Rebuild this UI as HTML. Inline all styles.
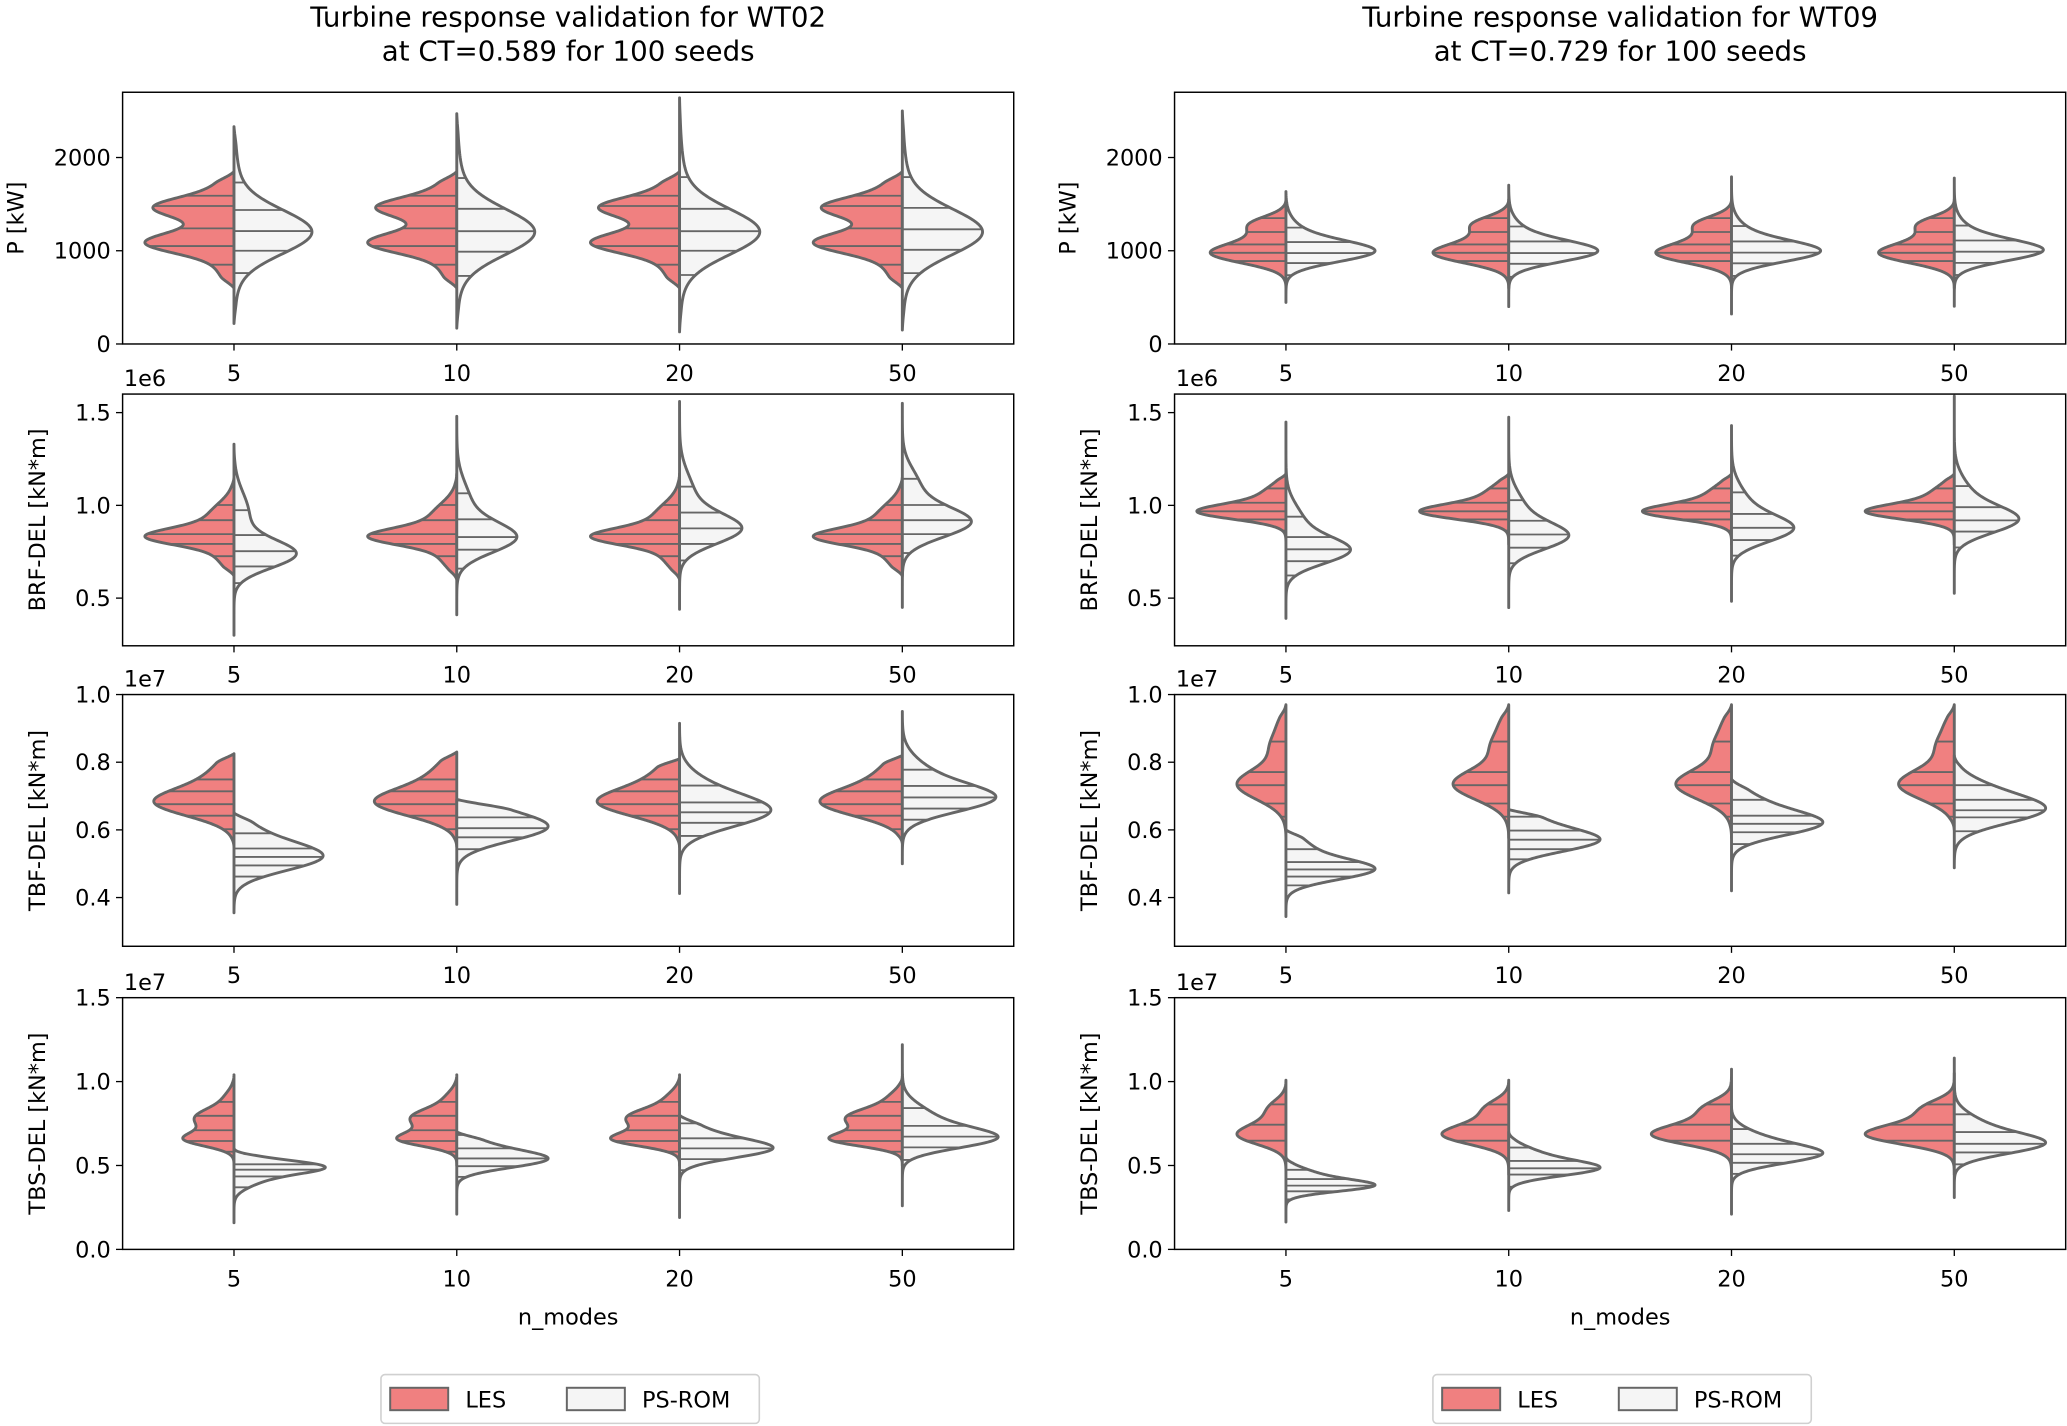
<!DOCTYPE html>
<html><head><meta charset="utf-8">
<style>
html,body{margin:0;padding:0;background:#fff;}
svg{display:block;}
text{font-family:"DejaVu Sans","Liberation Sans",sans-serif;fill:#000;}
</style></head>
<body>
<svg id="fig" xmlns="http://www.w3.org/2000/svg" width="2067" height="1426" viewBox="0 0 1568 1082" preserveAspectRatio="none">
<rect x="0" y="0" width="1568" height="1082" fill="#fff"/>
<g id="root"></g>
</svg>
<script>
// ---------- data ----------
const categories = ['5','10','20','50'];
const metricNames = ['P [kW]','BRF-DEL [kN*m]','TBF-DEL [kN*m]','TBS-DEL [kN*m]'];
const yDomains = [[0,2700],[0.243,1.6],[0.256,1.0],[0,1.5]];
const yTickValues = [[0,1000,2000],[0.5,1.0,1.5],[0.4,0.6,0.8,1.0],[0.0,0.5,1.0,1.5]];
const yTickLabels = [['0','1000','2000'],['0.5','1.0','1.5'],['0.4','0.6','0.8','1.0'],['0.0','0.5','1.0','1.5']];
const offsetLabels = ['','1e6','1e7','1e7'];
const panelTitles = [['Turbine response validation for WT02','at CT=0.589 for 100 seeds'],['Turbine response validation for WT09','at CT=0.729 for 100 seeds']];
// each half: [min, max, peakDensity, gaussian components [mu, sd, weight], inner line values]
const wt02_P_les = [
 [600,1850,0.40,[[1080,110,1],[1470,105,0.9],[1270,200,0.35],[1700,120,0.2],[800,150,0.2]],[850,1050,1240,1480,1590]],
 [600,1850,0.40,[[1080,110,1],[1470,105,0.9],[1270,200,0.35],[1700,120,0.2],[800,150,0.2]],[850,1050,1240,1480,1590]],
 [600,1850,0.40,[[1080,110,1],[1470,105,0.9],[1270,200,0.35],[1700,120,0.2],[800,150,0.2]],[850,1050,1240,1480,1590]],
 [600,1850,0.40,[[1080,110,1],[1470,105,0.9],[1270,200,0.35],[1700,120,0.2],[800,150,0.2]],[850,1050,1240,1480,1590]]];
const wt02_P_rom = [
 [220,2330,0.35,[[1200,230,1],[1300,500,0.12]],[761,1000,1211,1437,1732]],
 [170,2470,0.35,[[1200,240,1],[1300,500,0.12]],[730,990,1210,1450,1780]],
 [130,2640,0.36,[[1200,240,1],[1300,500,0.12]],[740,1000,1210,1450,1790]],
 [150,2500,0.36,[[1200,240,1],[1300,500,0.12]],[760,1010,1230,1460,1790]]];
const wt02_BRF_les = [
 [0.62,1.15,0.40,[[0.83,0.045,1],[0.93,0.08,0.35],[0.72,0.06,0.2]],[0.726,0.792,0.845,0.920,1.002]],
 [0.60,1.17,0.40,[[0.83,0.045,1],[0.93,0.08,0.35],[0.72,0.06,0.2]],[0.726,0.792,0.845,0.920,1.002]],
 [0.60,1.17,0.40,[[0.83,0.045,1],[0.93,0.08,0.35],[0.72,0.06,0.2]],[0.726,0.792,0.845,0.920,1.002]],
 [0.62,1.15,0.40,[[0.83,0.045,1],[0.93,0.08,0.35],[0.72,0.06,0.2]],[0.726,0.792,0.845,0.920,1.002]]];
const wt02_BRF_rom = [
 [0.30,1.33,0.28,[[0.736,0.075,1],[0.95,0.12,0.25]],[0.581,0.671,0.753,0.840,0.974]],
 [0.41,1.48,0.27,[[0.824,0.08,1],[1.0,0.12,0.25]],[0.659,0.761,0.829,0.925,1.065]],
 [0.44,1.56,0.28,[[0.871,0.08,1],[1.05,0.12,0.25]],[0.703,0.792,0.876,0.961,1.101]],
 [0.45,1.55,0.31,[[0.908,0.08,1],[1.1,0.1,0.25]],[0.743,0.845,0.920,1.002,1.143]]];
const wt02_TBF_les = [
 [0.55,0.825,0.36,[[0.68,0.04,1],[0.76,0.05,0.3]],[0.602,0.642,0.676,0.714,0.749]],
 [0.55,0.83,0.37,[[0.68,0.04,1],[0.76,0.05,0.3]],[0.602,0.642,0.676,0.714,0.749]],
 [0.55,0.81,0.37,[[0.68,0.04,1],[0.76,0.05,0.3]],[0.602,0.642,0.676,0.714,0.749]],
 [0.56,0.82,0.37,[[0.68,0.04,1],[0.76,0.05,0.3]],[0.602,0.642,0.676,0.714,0.749]]];
const wt02_TBF_rom = [
 [0.355,0.65,0.40,[[0.518,0.04,1],[0.58,0.05,0.3]],[0.462,0.495,0.520,0.545,0.590]],
 [0.38,0.69,0.41,[[0.605,0.04,1],[0.66,0.05,0.3]],[0.543,0.578,0.605,0.637,0.687]],
 [0.412,0.915,0.41,[[0.652,0.045,1],[0.72,0.05,0.3]],[0.582,0.621,0.652,0.681,0.731]],
 [0.50,0.95,0.42,[[0.692,0.04,1],[0.76,0.05,0.3]],[0.630,0.663,0.696,0.730,0.778]]];
const wt02_TBS_les = [
 [0.50,1.04,0.23,[[0.652,0.04,1],[0.796,0.05,0.75],[0.72,0.05,0.45],[0.9,0.05,0.2]],[0.582,0.646,0.710,0.796,0.879]],
 [0.50,1.04,0.27,[[0.652,0.04,1],[0.796,0.05,0.75],[0.72,0.05,0.45],[0.9,0.05,0.2]],[0.582,0.646,0.710,0.796,0.879]],
 [0.50,1.04,0.31,[[0.652,0.04,1],[0.796,0.05,0.75],[0.72,0.05,0.45],[0.9,0.05,0.2]],[0.582,0.646,0.710,0.796,0.879]],
 [0.50,1.03,0.33,[[0.652,0.04,1],[0.796,0.05,0.75],[0.72,0.05,0.45],[0.9,0.05,0.2]],[0.582,0.646,0.710,0.796,0.879]]];
const wt02_TBS_rom = [
 [0.159,0.60,0.41,[[0.494,0.04,1],[0.42,0.05,0.3]],[0.370,0.435,0.475,0.507,0.585]],
 [0.21,0.70,0.41,[[0.535,0.05,1],[0.62,0.06,0.3]],[0.432,0.496,0.542,0.602,0.682]],
 [0.19,0.80,0.42,[[0.598,0.055,1],[0.69,0.07,0.3]],[0.472,0.538,0.602,0.662,0.751]],
 [0.26,1.22,0.43,[[0.662,0.06,1],[0.78,0.08,0.35]],[0.533,0.608,0.672,0.736,0.842]]];
const wt09_P_les = [
 [600,1550,0.34,[[963,100,1],[1300,80,0.35],[1150,120,0.4]],[889,978,1068,1201,1350]],
 [600,1550,0.34,[[963,100,1],[1300,80,0.35],[1150,120,0.4]],[889,978,1068,1201,1350]],
 [600,1550,0.34,[[963,100,1],[1300,80,0.35],[1150,120,0.4]],[889,978,1068,1201,1350]],
 [600,1550,0.34,[[963,100,1],[1300,80,0.35],[1150,120,0.4]],[889,978,1068,1201,1350]]];
const wt09_P_rom = [
 [446,1635,0.40,[[990,110,1],[1150,150,0.2]],[738,868,975,1093,1248]],
 [401,1703,0.40,[[990,110,1],[1150,150,0.2]],[720,860,975,1100,1260]],
 [322,1793,0.40,[[990,110,1],[1150,150,0.2]],[730,865,980,1100,1265]],
 [405,1780,0.40,[[1000,110,1],[1150,150,0.2]],[740,870,990,1110,1270]]];
const wt09_BRF_les = [
 [0.79,1.17,0.40,[[0.964,0.04,1],[1.05,0.06,0.3]],[0.864,0.924,0.968,1.014,1.091]],
 [0.79,1.17,0.40,[[0.964,0.04,1],[1.05,0.06,0.3]],[0.864,0.924,0.968,1.014,1.091]],
 [0.79,1.17,0.40,[[0.964,0.04,1],[1.05,0.06,0.3]],[0.864,0.924,0.968,1.014,1.091]],
 [0.79,1.17,0.40,[[0.964,0.04,1],[1.05,0.06,0.3]],[0.864,0.924,0.968,1.014,1.091]]];
const wt09_BRF_rom = [
 [0.391,1.449,0.29,[[0.754,0.07,1],[0.9,0.1,0.3]],[0.622,0.699,0.763,0.829,0.939]],
 [0.449,1.475,0.27,[[0.831,0.07,1],[0.97,0.1,0.3]],[0.688,0.772,0.843,0.917,1.028]],
 [0.483,1.43,0.28,[[0.871,0.07,1],[1.0,0.1,0.3]],[0.729,0.813,0.879,0.954,1.07]],
 [0.526,1.589,0.29,[[0.919,0.07,1],[1.04,0.1,0.3]],[0.773,0.859,0.919,0.990,1.104]]];
const wt09_TBF_les = [
 [0.576,0.97,0.22,[[0.735,0.045,1],[0.85,0.04,0.3],[0.92,0.03,0.1]],[0.639,0.678,0.732,0.771,0.861]],
 [0.576,0.97,0.25,[[0.735,0.045,1],[0.85,0.04,0.3],[0.92,0.03,0.1]],[0.639,0.678,0.732,0.771,0.861]],
 [0.576,0.97,0.25,[[0.735,0.045,1],[0.85,0.04,0.3],[0.92,0.03,0.1]],[0.639,0.678,0.732,0.771,0.861]],
 [0.60,0.97,0.25,[[0.735,0.045,1],[0.85,0.04,0.3],[0.92,0.03,0.1]],[0.639,0.678,0.732,0.771,0.861]]];
const wt09_TBF_rom = [
 [0.344,0.60,0.40,[[0.483,0.03,1],[0.55,0.035,0.25]],[0.436,0.462,0.483,0.505,0.543]],
 [0.414,0.66,0.41,[[0.568,0.033,1],[0.63,0.04,0.3]],[0.513,0.543,0.571,0.598,0.639]],
 [0.42,0.75,0.41,[[0.618,0.035,1],[0.68,0.04,0.3]],[0.558,0.593,0.618,0.642,0.689]],
 [0.488,0.82,0.41,[[0.658,0.04,1],[0.72,0.04,0.3]],[0.596,0.637,0.658,0.689,0.732]]];
const wt09_TBS_les = [
 [0.446,1.008,0.22,[[0.677,0.055,1],[0.85,0.05,0.3],[0.76,0.06,0.35]],[0.527,0.648,0.743,0.864]],
 [0.446,1.008,0.30,[[0.677,0.055,1],[0.85,0.05,0.3],[0.76,0.06,0.35]],[0.527,0.648,0.743,0.864]],
 [0.446,1.074,0.36,[[0.677,0.055,1],[0.85,0.05,0.3],[0.76,0.06,0.35]],[0.527,0.648,0.743,0.864]],
 [0.446,1.05,0.40,[[0.677,0.055,1],[0.85,0.05,0.3],[0.76,0.06,0.35]],[0.527,0.648,0.743,0.864]]];
const wt09_TBS_rom = [
 [0.163,0.55,0.40,[[0.38,0.035,1],[0.45,0.04,0.3]],[0.298,0.346,0.380,0.419,0.474]],
 [0.232,0.70,0.41,[[0.483,0.045,1],[0.57,0.05,0.3]],[0.373,0.446,0.483,0.527,0.607]],
 [0.21,0.85,0.41,[[0.567,0.055,1],[0.66,0.06,0.3]],[0.450,0.516,0.567,0.629,0.717]],
 [0.309,1.14,0.41,[[0.629,0.06,1],[0.74,0.07,0.3]],[0.507,0.578,0.629,0.699,0.805]]];
const panelData = [
 [[wt02_P_les,wt02_P_rom],[wt02_BRF_les,wt02_BRF_rom],[wt02_TBF_les,wt02_TBF_rom],[wt02_TBS_les,wt02_TBS_rom]],
 [[wt09_P_les,wt09_P_rom],[wt09_BRF_les,wt09_BRF_rom],[wt09_TBF_les,wt09_TBF_rom],[wt09_TBS_les,wt09_TBS_rom]]];

// ---------- layout ----------
const NS='http://www.w3.org/2000/svg';
const root=document.getElementById('root');
const panelX=[93,891], axW=676, rowTop=[70,299,527,757], axH=191;
const LES_FILL='#f08080', ROM_FILL='#f5f5f5', EDGE='#666666';
function mk(tag,attrs,parent){const e=document.createElementNS(NS,tag);for(const k in attrs)e.setAttribute(k,attrs[k]);(parent||root).appendChild(e);return e;}
function txt(s,attrs,parent){const e=mk('text',attrs,parent);e.textContent=s;return e;}

function dens(comps,v){let s=0;for(const c of comps)s+=c[2]*Math.exp(-0.5*Math.pow((v-c[0])/c[1],2));return s;}
function taper(t){const tw=0.1;let g=1;if(t<tw)g*=Math.sin(Math.PI/2*t/tw);if(t>1-tw)g*=Math.sin(Math.PI/2*(1-t)/tw);return g;}
function shaped(h,v){const [mn,mx,,comps]=h;return dens(comps,v)*taper((v-mn)/(mx-mn));}

panelData.forEach((rows,p)=>{
  const px0=panelX[p];
  const pg=mk('g',{});
  
  
  const cx0=px0+axW/2;
  const t1=txt(panelTitles[p][0],{x:cx0,y:20,'text-anchor':'middle','font-size':'21'},pg);
  
  
  const t2=txt(panelTitles[p][1],{x:cx0,y:46,'text-anchor':'middle','font-size':'21'},pg);
  
  
  rows.forEach((halves,r)=>{
    const top=rowTop[r], bot=top+axH;
    const [d0,d1]=yDomains[r];
    const yS=v=>bot-(v-d0)/(d1-d0)*axH;
    const xS=i=>px0+(i+0.5)*axW/categories.length;
    const band=axW/categories.length;
    const ag=mk('g',{},pg);
    
    
    halves.forEach((series,s)=>{
      series.forEach((h,i)=>{
        const [mn,mx,peak,comps,lines]=h;
        const N=200; let fmax=0; const vs=[],fs=[];
        for(let k=0;k<=N;k++){const v=mn+(mx-mn)*k/N;const f=shaped(h,v);vs.push(v);fs.push(f);if(f>fmax)fmax=f;}
        const sign=s===0?-1:1, cx=xS(i), W=peak*band;
        let d='M'+cx+','+yS(mn);
        for(let k=0;k<=N;k++){d+=' L'+(cx+sign*fs[k]/fmax*W).toFixed(2)+','+yS(vs[k]).toFixed(2);}
        d+=' L'+cx+','+yS(mx)+' Z';
        const vg=mk('g',{},ag);
        
        
        mk('path',{d:d,fill:s===0?LES_FILL:ROM_FILL,stroke:'none'},vg);
        lines.forEach(v=>{
          const w=shaped(h,v)/fmax*W;
          const ln=mk('line',{x1:cx,x2:cx+sign*w,y1:yS(v),y2:yS(v),stroke:EDGE,'stroke-width':1.4},vg);
          
          
        });
        mk('path',{d:d,fill:'none',stroke:EDGE,'stroke-width':2.2,'stroke-linejoin':'round'},vg);
      });
    });
    const fr=mk('rect',{x:px0,y:top,width:axW,height:axH,fill:'none',stroke:'#000','stroke-width':1.1},ag);
    
    
    yTickValues[r].forEach((v,k)=>{
      const y=yS(v);
      mk('line',{x1:px0-5,x2:px0,y1:y,y2:y,stroke:'#000','stroke-width':1},ag);
      const tl=txt(yTickLabels[r][k],{x:px0-9,y:y+6,'text-anchor':'end','font-size':'17'},ag);
      
      
    });
    categories.forEach((c,i)=>{
      const x=xS(i);
      mk('line',{x1:x,x2:x,y1:bot,y2:bot+5,stroke:'#000','stroke-width':1},ag);
      const tl=txt(c,{x:x,y:bot+28,'text-anchor':'middle','font-size':'17'},ag);
      
      
    });
    if(offsetLabels[r]){
      const ol=txt(offsetLabels[r],{x:px0+1,y:top-6,'font-size':'17'},ag);
      
      
    }
    const ylx=r===0?px0-75:px0-59, ylc=top+axH/2;
    const yl=txt(metricNames[r],{x:ylx,y:ylc,'text-anchor':'middle','font-size':'17',transform:'rotate(-90 '+ylx+' '+ylc+')'},ag);
    
    
  });
  const xl=txt('n_modes',{x:cx0,y:1005,'text-anchor':'middle','font-size':'17'},pg);
  
  
  const lx=px0+196;
  const lg=mk('g',{},pg);
  
  
  mk('rect',{x:lx,y:1043,width:287,height:37,rx:3,fill:'#fff',stroke:'#d0d0d0','stroke-width':1.2},lg);
  const e1=mk('g',{},lg);
  
  
  mk('rect',{x:lx+7,y:1053,width:44,height:17,fill:LES_FILL,stroke:EDGE,'stroke-width':1.5},e1);
  txt('LES',{x:lx+64,y:1068,'font-size':'17'},e1);
  const e2=mk('g',{},lg);
  
  
  mk('rect',{x:lx+141,y:1053,width:44,height:17,fill:ROM_FILL,stroke:EDGE,'stroke-width':1.5},e2);
  txt('PS-ROM',{x:lx+198,y:1068,'font-size':'17'},e2);
});
</script>
</body></html>
